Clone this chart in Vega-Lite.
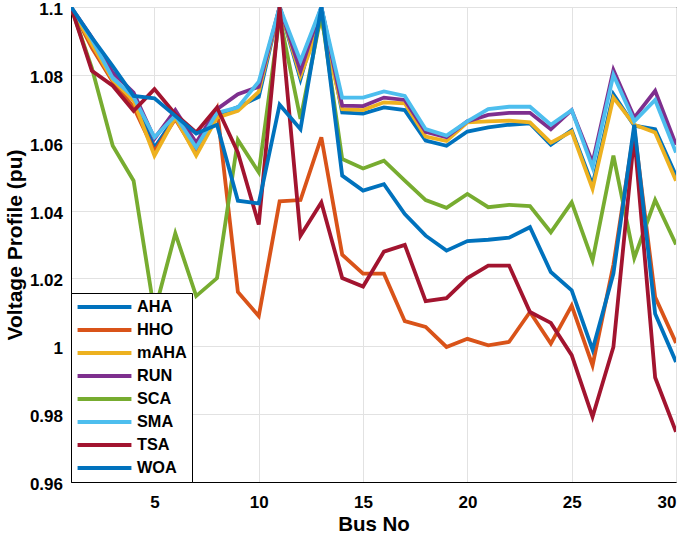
{
  "$schema": "https://vega.github.io/schema/vega-lite/v6.json",
  "width": 605,
  "height": 475,
  "autosize": "none",
  "padding": {"left": 71, "top": 7, "right": 9, "bottom": 56},
  "background": "white",
  "config": {"font": "Liberation Sans", "view": {"stroke": "black", "strokeWidth": 1}},
  "datasets": {
    "volt": [
      {"bus":1,"algo":"AHA","v":1.1},{"bus":2,"algo":"AHA","v":1.0895},{"bus":3,"algo":"AHA","v":1.079},{"bus":4,"algo":"AHA","v":1.073},{"bus":5,"algo":"AHA","v":1.0586},{"bus":6,"algo":"AHA","v":1.0675},{"bus":7,"algo":"AHA","v":1.0576},{"bus":8,"algo":"AHA","v":1.068},{"bus":9,"algo":"AHA","v":1.0705},{"bus":10,"algo":"AHA","v":1.0735},{"bus":11,"algo":"AHA","v":1.1},{"bus":12,"algo":"AHA","v":1.0787},{"bus":13,"algo":"AHA","v":1.1},{"bus":14,"algo":"AHA","v":1.0689},{"bus":15,"algo":"AHA","v":1.0686},{"bus":16,"algo":"AHA","v":1.0704},{"bus":17,"algo":"AHA","v":1.0696},{"bus":18,"algo":"AHA","v":1.0606},{"bus":19,"algo":"AHA","v":1.0591},{"bus":20,"algo":"AHA","v":1.0633},{"bus":21,"algo":"AHA","v":1.0645},{"bus":22,"algo":"AHA","v":1.0653},{"bus":23,"algo":"AHA","v":1.0657},{"bus":24,"algo":"AHA","v":1.0594},{"bus":25,"algo":"AHA","v":1.0637},{"bus":26,"algo":"AHA","v":1.0475},{"bus":27,"algo":"AHA","v":1.0743},{"bus":28,"algo":"AHA","v":1.065},{"bus":29,"algo":"AHA","v":1.064},{"bus":30,"algo":"AHA","v":1.0503},
      {"bus":1,"algo":"HHO","v":1.1},{"bus":2,"algo":"HHO","v":1.088},{"bus":3,"algo":"HHO","v":1.078},{"bus":4,"algo":"HHO","v":1.0705},{"bus":5,"algo":"HHO","v":1.0575},{"bus":6,"algo":"HHO","v":1.067},{"bus":7,"algo":"HHO","v":1.057},{"bus":8,"algo":"HHO","v":1.07},{"bus":9,"algo":"HHO","v":1.016},{"bus":10,"algo":"HHO","v":1.0089},{"bus":11,"algo":"HHO","v":1.0427},{"bus":12,"algo":"HHO","v":1.0431},{"bus":13,"algo":"HHO","v":1.0616},{"bus":14,"algo":"HHO","v":1.027},{"bus":15,"algo":"HHO","v":1.0214},{"bus":16,"algo":"HHO","v":1.0214},{"bus":17,"algo":"HHO","v":1.0074},{"bus":18,"algo":"HHO","v":1.0057},{"bus":19,"algo":"HHO","v":0.9998},{"bus":20,"algo":"HHO","v":1.0022},{"bus":21,"algo":"HHO","v":1.0003},{"bus":22,"algo":"HHO","v":1.0013},{"bus":23,"algo":"HHO","v":1.0101},{"bus":24,"algo":"HHO","v":1.0008},{"bus":25,"algo":"HHO","v":1.012},{"bus":26,"algo":"HHO","v":0.9944},{"bus":27,"algo":"HHO","v":1.024},{"bus":28,"algo":"HHO","v":1.064},{"bus":29,"algo":"HHO","v":1.0145},{"bus":30,"algo":"HHO","v":1.001},
      {"bus":1,"algo":"mAHA","v":1.1},{"bus":2,"algo":"mAHA","v":1.089},{"bus":3,"algo":"mAHA","v":1.0785},{"bus":4,"algo":"mAHA","v":1.0724},{"bus":5,"algo":"mAHA","v":1.0562},{"bus":6,"algo":"mAHA","v":1.0675},{"bus":7,"algo":"mAHA","v":1.0562},{"bus":8,"algo":"mAHA","v":1.0674},{"bus":9,"algo":"mAHA","v":1.0694},{"bus":10,"algo":"mAHA","v":1.075},{"bus":11,"algo":"mAHA","v":1.1},{"bus":12,"algo":"mAHA","v":1.0797},{"bus":13,"algo":"mAHA","v":1.096},{"bus":14,"algo":"mAHA","v":1.0699},{"bus":15,"algo":"mAHA","v":1.0696},{"bus":16,"algo":"mAHA","v":1.0719},{"bus":17,"algo":"mAHA","v":1.0716},{"bus":18,"algo":"mAHA","v":1.0618},{"bus":19,"algo":"mAHA","v":1.0605},{"bus":20,"algo":"mAHA","v":1.066},{"bus":21,"algo":"mAHA","v":1.0663},{"bus":22,"algo":"mAHA","v":1.0665},{"bus":23,"algo":"mAHA","v":1.066},{"bus":24,"algo":"mAHA","v":1.06},{"bus":25,"algo":"mAHA","v":1.0633},{"bus":26,"algo":"mAHA","v":1.0464},{"bus":27,"algo":"mAHA","v":1.0733},{"bus":28,"algo":"mAHA","v":1.0653},{"bus":29,"algo":"mAHA","v":1.063},{"bus":30,"algo":"mAHA","v":1.0488},
      {"bus":1,"algo":"RUN","v":1.1},{"bus":2,"algo":"RUN","v":1.091},{"bus":3,"algo":"RUN","v":1.0807},{"bus":4,"algo":"RUN","v":1.0748},{"bus":5,"algo":"RUN","v":1.0612},{"bus":6,"algo":"RUN","v":1.0696},{"bus":7,"algo":"RUN","v":1.06},{"bus":8,"algo":"RUN","v":1.0699},{"bus":9,"algo":"RUN","v":1.0743},{"bus":10,"algo":"RUN","v":1.0765},{"bus":11,"algo":"RUN","v":1.1},{"bus":12,"algo":"RUN","v":1.0812},{"bus":13,"algo":"RUN","v":1.1},{"bus":14,"algo":"RUN","v":1.0709},{"bus":15,"algo":"RUN","v":1.0708},{"bus":16,"algo":"RUN","v":1.0733},{"bus":17,"algo":"RUN","v":1.0726},{"bus":18,"algo":"RUN","v":1.0632},{"bus":19,"algo":"RUN","v":1.0616},{"bus":20,"algo":"RUN","v":1.0663},{"bus":21,"algo":"RUN","v":1.0682},{"bus":22,"algo":"RUN","v":1.0688},{"bus":23,"algo":"RUN","v":1.0688},{"bus":24,"algo":"RUN","v":1.064},{"bus":25,"algo":"RUN","v":1.0696},{"bus":26,"algo":"RUN","v":1.0541},{"bus":27,"algo":"RUN","v":1.0814},{"bus":28,"algo":"RUN","v":1.0674},{"bus":29,"algo":"RUN","v":1.0753},{"bus":30,"algo":"RUN","v":1.0594},
      {"bus":1,"algo":"SCA","v":1.1},{"bus":2,"algo":"SCA","v":1.082},{"bus":3,"algo":"SCA","v":1.0591},{"bus":4,"algo":"SCA","v":1.0488},{"bus":5,"algo":"SCA","v":1.01},{"bus":6,"algo":"SCA","v":1.0333},{"bus":7,"algo":"SCA","v":1.0148},{"bus":8,"algo":"SCA","v":1.0201},{"bus":9,"algo":"SCA","v":1.0608},{"bus":10,"algo":"SCA","v":1.0513},{"bus":11,"algo":"SCA","v":1.097},{"bus":12,"algo":"SCA","v":1.067},{"bus":13,"algo":"SCA","v":1.098},{"bus":14,"algo":"SCA","v":1.0552},{"bus":15,"algo":"SCA","v":1.0524},{"bus":16,"algo":"SCA","v":1.0547},{"bus":17,"algo":"SCA","v":1.0488},{"bus":18,"algo":"SCA","v":1.0431},{"bus":19,"algo":"SCA","v":1.0408},{"bus":20,"algo":"SCA","v":1.0449},{"bus":21,"algo":"SCA","v":1.041},{"bus":22,"algo":"SCA","v":1.0417},{"bus":23,"algo":"SCA","v":1.0413},{"bus":24,"algo":"SCA","v":1.0336},{"bus":25,"algo":"SCA","v":1.0424},{"bus":26,"algo":"SCA","v":1.0253},{"bus":27,"algo":"SCA","v":1.0562},{"bus":28,"algo":"SCA","v":1.026},{"bus":29,"algo":"SCA","v":1.0431},{"bus":30,"algo":"SCA","v":1.03},
      {"bus":1,"algo":"SMA","v":1.1},{"bus":2,"algo":"SMA","v":1.0905},{"bus":3,"algo":"SMA","v":1.079},{"bus":4,"algo":"SMA","v":1.0735},{"bus":5,"algo":"SMA","v":1.0616},{"bus":6,"algo":"SMA","v":1.068},{"bus":7,"algo":"SMA","v":1.0586},{"bus":8,"algo":"SMA","v":1.0688},{"bus":9,"algo":"SMA","v":1.0704},{"bus":10,"algo":"SMA","v":1.078},{"bus":11,"algo":"SMA","v":1.1},{"bus":12,"algo":"SMA","v":1.0841},{"bus":13,"algo":"SMA","v":1.1},{"bus":14,"algo":"SMA","v":1.0733},{"bus":15,"algo":"SMA","v":1.0733},{"bus":16,"algo":"SMA","v":1.0751},{"bus":17,"algo":"SMA","v":1.0738},{"bus":18,"algo":"SMA","v":1.064},{"bus":19,"algo":"SMA","v":1.0621},{"bus":20,"algo":"SMA","v":1.0663},{"bus":21,"algo":"SMA","v":1.0699},{"bus":22,"algo":"SMA","v":1.0706},{"bus":23,"algo":"SMA","v":1.0706},{"bus":24,"algo":"SMA","v":1.0653},{"bus":25,"algo":"SMA","v":1.0696},{"bus":26,"algo":"SMA","v":1.0527},{"bus":27,"algo":"SMA","v":1.08},{"bus":28,"algo":"SMA","v":1.0663},{"bus":29,"algo":"SMA","v":1.0726},{"bus":30,"algo":"SMA","v":1.0571},
      {"bus":1,"algo":"TSA","v":1.1},{"bus":2,"algo":"TSA","v":1.0812},{"bus":3,"algo":"TSA","v":1.0768},{"bus":4,"algo":"TSA","v":1.0694},{"bus":5,"algo":"TSA","v":1.0758},{"bus":6,"algo":"TSA","v":1.0684},{"bus":7,"algo":"TSA","v":1.063},{"bus":8,"algo":"TSA","v":1.0704},{"bus":9,"algo":"TSA","v":1.0571},{"bus":10,"algo":"TSA","v":1.0359},{"bus":11,"algo":"TSA","v":1.1},{"bus":12,"algo":"TSA","v":1.0326},{"bus":13,"algo":"TSA","v":1.0424},{"bus":14,"algo":"TSA","v":1.0201},{"bus":15,"algo":"TSA","v":1.0176},{"bus":16,"algo":"TSA","v":1.0279},{"bus":17,"algo":"TSA","v":1.0299},{"bus":18,"algo":"TSA","v":1.0133},{"bus":19,"algo":"TSA","v":1.0142},{"bus":20,"algo":"TSA","v":1.0201},{"bus":21,"algo":"TSA","v":1.0238},{"bus":22,"algo":"TSA","v":1.0238},{"bus":23,"algo":"TSA","v":1.0101},{"bus":24,"algo":"TSA","v":1.0069},{"bus":25,"algo":"TSA","v":0.9974},{"bus":26,"algo":"TSA","v":0.9792},{"bus":27,"algo":"TSA","v":0.9998},{"bus":28,"algo":"TSA","v":1.062},{"bus":29,"algo":"TSA","v":0.9908},{"bus":30,"algo":"TSA","v":0.9748},
      {"bus":1,"algo":"WOA","v":1.1},{"bus":2,"algo":"WOA","v":1.091},{"bus":3,"algo":"WOA","v":1.0826},{"bus":4,"algo":"WOA","v":1.0738},{"bus":5,"algo":"WOA","v":1.0731},{"bus":6,"algo":"WOA","v":1.0679},{"bus":7,"algo":"WOA","v":1.0627},{"bus":8,"algo":"WOA","v":1.0653},{"bus":9,"algo":"WOA","v":1.0429},{"bus":10,"algo":"WOA","v":1.0421},{"bus":11,"algo":"WOA","v":1.0712},{"bus":12,"algo":"WOA","v":1.064},{"bus":13,"algo":"WOA","v":1.1},{"bus":14,"algo":"WOA","v":1.0503},{"bus":15,"algo":"WOA","v":1.0459},{"bus":16,"algo":"WOA","v":1.0478},{"bus":17,"algo":"WOA","v":1.039},{"bus":18,"algo":"WOA","v":1.0326},{"bus":19,"algo":"WOA","v":1.0282},{"bus":20,"algo":"WOA","v":1.031},{"bus":21,"algo":"WOA","v":1.0314},{"bus":22,"algo":"WOA","v":1.032},{"bus":23,"algo":"WOA","v":1.0351},{"bus":24,"algo":"WOA","v":1.0219},{"bus":25,"algo":"WOA","v":1.0165},{"bus":26,"algo":"WOA","v":0.999},{"bus":27,"algo":"WOA","v":1.0214},{"bus":28,"algo":"WOA","v":1.0653},{"bus":29,"algo":"WOA","v":1.0096},{"bus":30,"algo":"WOA","v":0.9954}
    ]
  },
  "data": {"name": "volt"},
  "mark": {"type": "line", "strokeWidth": 3.8, "clip": true},
  "encoding": {
    "x": {
      "field": "bus", "type": "quantitative",
      "scale": {"domain": [1, 30], "nice": false, "zero": false},
      "axis": {
        "values": [5, 10, 15, 20, 25, 30], "title": "Bus No",
        "titleFontSize": 20.5, "titleFontWeight": "bold", "titleColor": "black", "titlePadding": 4,
        "labelFontSize": 17, "labelFontWeight": "bold", "labelColor": "black", "labelPadding": 12,
        "domainColor": "black", "tickColor": "black", "tickSize": 0,
        "gridColor": "#e2e2e2", "gridWidth": 1
      }
    },
    "y": {
      "field": "v", "type": "quantitative",
      "scale": {"domain": [0.96, 1.1], "nice": false, "zero": false},
      "axis": {
        "values": [0.96, 0.98, 1, 1.02, 1.04, 1.06, 1.08, 1.1], "format": "~g",
        "title": "Voltage Profile (pu)",
        "titleFontSize": 21, "titleFontWeight": "bold", "titleColor": "black", "titlePadding": 4,
        "labelFontSize": 17, "labelFontWeight": "bold", "labelColor": "black", "labelPadding": 8.5, "labelOffset": 2.5,
        "domainColor": "black", "tickColor": "black", "tickSize": 0,
        "gridColor": "#e2e2e2", "gridWidth": 1
      }
    },
    "color": {
      "field": "algo", "type": "nominal",
      "scale": {
        "domain": ["AHA", "HHO", "mAHA", "RUN", "SCA", "SMA", "TSA", "WOA"],
        "range": ["#0072BD", "#D95319", "#EDB120", "#7E2F8E", "#77AC30", "#4DBEEE", "#A2142F", "#0072BD"]
      },
      "legend": {
        "title": null, "orient": "bottom-left", "offset": 0,
        "fillColor": "white", "strokeColor": "black",
        "padding": 4.5, "rowPadding": 4, "clipHeight": 19,
        "labelFontSize": 16.3, "labelFontWeight": "bold", "labelColor": "black", "labelOffset": 3.5,
        "symbolType": "stroke", "symbolSize": 2900, "symbolStrokeWidth": 4
      }
    }
  }
}
